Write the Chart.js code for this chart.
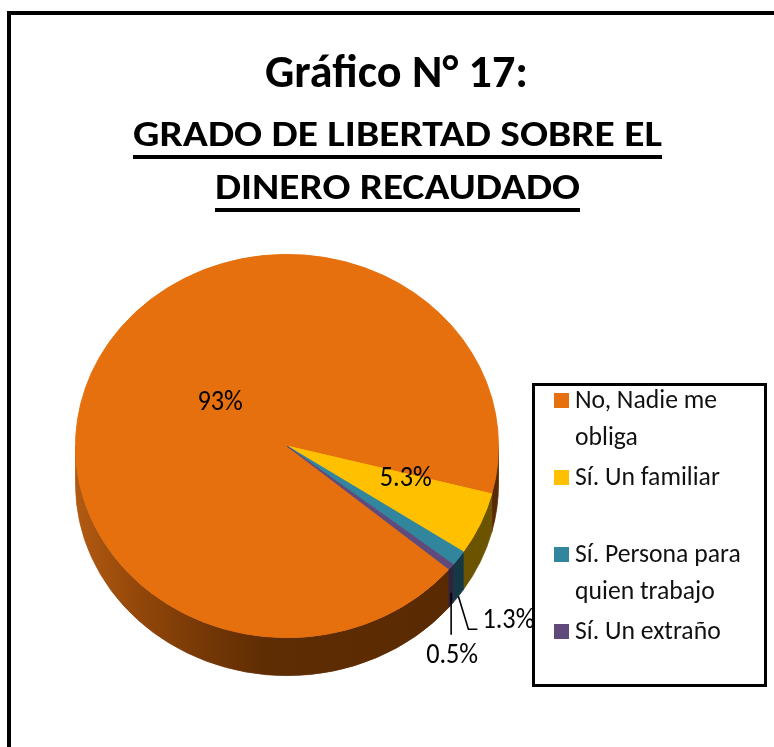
<!DOCTYPE html>
<html><head><meta charset="utf-8">
<script src="https://cdn.jsdelivr.net/npm/chart.js@4.4.1/dist/chart.umd.min.js"></script>
<style>
html,body{margin:0;padding:0;background:#fff;width:774px;height:747px;overflow:hidden}
#frame{position:absolute;left:7px;top:11px;width:820px;height:820px;border-left:4px solid #000;border-top:4px solid #000;box-sizing:border-box}
canvas{position:absolute;left:0;top:0}
</style></head><body>
<div id="frame"></div>
<canvas id="c" width="774" height="747"></canvas>
<script>
// ---- data ----
const titleLines = ['Gráfico N° 17:', 'GRADO DE LIBERTAD SOBRE EL', 'DINERO RECAUDADO'];
const categories = [['No, Nadie me', 'obliga'], ['Sí. Un familiar'], ['Sí. Persona para', 'quien trabajo'], ['Sí. Un extraño']];
const values = [93, 5.3, 1.3, 0.5];
const valueLabels = ['93%', '5.3%', '1.3%', '0.5%'];
const topColors = ['#E6700E', '#FFC000', '#31859C', '#604A7B'];
const sideColors = ['orangeGradient', '#6C5300', '#143944', '#2E2440'];

const FONT = "Carlito, 'Liberation Sans Narrow', 'DejaVu Sans Condensed', 'Open Sans', sans-serif";
const TILT = 0.906, DEPTH = 38;

function sizeForCap(ctx, weight, capH) {
  ctx.font = weight + ' 100px ' + FONT;
  const a = ctx.measureText('H').actualBoundingBoxAscent || 72;
  return 100 * capH / a;
}
function widthScale(ctx, weight, capH, sample, targetW) {
  const s = sizeForCap(ctx, weight, capH);
  ctx.font = weight + ' ' + s + 'px ' + FONT;
  return { size: s, sx: targetW / ctx.measureText(sample).width };
}
function drawText(ctx, text, x, y, weight, size, sx, align, baseline, color) {
  ctx.save();
  ctx.font = weight + ' ' + size + 'px ' + FONT;
  ctx.fillStyle = color || '#000';
  ctx.textAlign = align; ctx.textBaseline = baseline;
  ctx.translate(x, y); ctx.scale(sx, 1);
  ctx.fillText(text, 0, 0);
  ctx.restore();
}

function sideFill(ctx, i, cx, r) {
  if (sideColors[i] !== 'orangeGradient') return sideColors[i];
  const g = ctx.createLinearGradient(cx - r, 0, cx + r, 0);
  g.addColorStop(0, '#B25A12');
  g.addColorStop(0.15, '#934709');
  g.addColorStop(0.3, '#763806');
  g.addColorStop(0.45, '#5F2D03');
  g.addColorStop(1, '#582902');
  return g;
}

const pie3d = {
  id: 'pie3d',
  beforeDatasetsDraw(chart) {
    const ctx = chart.ctx;
    const arcs = chart.getDatasetMeta(0).data;
    const { x, y, outerRadius: r } = arcs[0];
    const ry = r * TILT;
    ctx.save();
    arcs.forEach((arc, i) => {
      const s = arc.startAngle, e = arc.endAngle;
      for (let k = -1; k <= 2; k++) {
        const a0 = Math.max(s, 2 * Math.PI * k), a1 = Math.min(e, 2 * Math.PI * k + Math.PI);
        if (a1 <= a0) continue;
        ctx.beginPath();
        ctx.ellipse(x, y, r, ry, 0, a0, a1);
        ctx.ellipse(x, y + DEPTH, r, ry, 0, a1, a0, true);
        ctx.closePath();
        const f = sideFill(ctx, i, x, r);
        ctx.fillStyle = f; ctx.strokeStyle = f; ctx.lineWidth = 0.8;
        ctx.fill(); ctx.stroke();
      }
    });
    ctx.translate(x, y); ctx.scale(1, TILT); ctx.translate(-x, -y);
  },
  afterDatasetsDraw(chart) { chart.ctx.restore(); }
};

// label placement relative to each slice (angle shift in degrees, radius fraction) - layout only
const labelPlace = [
  { inside: true, shift: 8, frac: 0.387 },
  { inside: true, shift: -7, frac: 0.587 },
  { inside: false, line: [[0, 0], [10, 33], [19, 33]], text: [24, 25], align: 'left' },
  { inside: false, line: [[0, -12], [0, 30]], text: [1, 51], align: 'center' }
];

const decor = {
  id: 'decor',
  afterDraw(chart) {
    const ctx = chart.ctx;
    // title
    const t1 = widthScale(ctx, 'bold', 30, titleLines[0], 263);
    drawText(ctx, titleLines[0], 396.5, 87, 'bold', t1.size, t1.sx, 'center', 'alphabetic');
    const subW = [529, 365], subY = [146, 199];
    for (let j = 0; j < 2; j++) {
      const t = widthScale(ctx, 'bold', 24, titleLines[j + 1], subW[j]);
      drawText(ctx, titleLines[j + 1], 397.5, subY[j], 'bold', t.size, t.sx, 'center', 'alphabetic');
      ctx.fillStyle = '#000';
      ctx.fillRect(397.5 - subW[j] / 2, subY[j] + 9, subW[j], 4);
    }
    // data labels
    const arcs = chart.getDatasetMeta(0).data;
    const lf = widthScale(ctx, 'normal', 18, '5.3%', 52);
    arcs.forEach((arc, i) => {
      const p = labelPlace[i];
      const { x, y, outerRadius: r } = arc;
      const mid = (arc.startAngle + arc.endAngle) / 2;
      if (p.inside) {
        const a = mid + p.shift * Math.PI / 180;
        drawText(ctx, valueLabels[i], x + Math.cos(a) * r * p.frac, y + Math.sin(a) * r * p.frac * TILT,
          'normal', lf.size, lf.sx, 'center', 'middle', '#000');
      } else {
        const bx = x + Math.cos(mid) * r, by = y + Math.sin(mid) * r * TILT + DEPTH;
        ctx.save();
        ctx.strokeStyle = '#000'; ctx.lineWidth = 1.6;
        ctx.beginPath();
        p.line.forEach((q, k) => k ? ctx.lineTo(bx + q[0], by + q[1]) : ctx.moveTo(bx + q[0], by + q[1]));
        ctx.stroke();
        ctx.restore();
        drawText(ctx, valueLabels[i], bx + p.text[0], by + p.text[1], 'normal', lf.size, lf.sx, p.align, 'middle', '#000');
      }
    });
    // legend
    ctx.save();
    ctx.strokeStyle = '#000'; ctx.lineWidth = 3;
    ctx.strokeRect(533.5, 384.5, 232, 301);
    ctx.restore();
    const lg = widthScale(ctx, 'normal', 17, 'No, Nadie me', 142);
    categories.forEach((lines, i) => {
      const base = 408 + i * 77;
      ctx.fillStyle = topColors[i];
      ctx.fillRect(554, base - 15, 15, 15);
      lines.forEach((ln, k) => drawText(ctx, ln, 575, base + k * 37, 'normal', lg.size, lg.sx, 'left', 'alphabetic', '#111'));
    });
  }
};

new Chart(document.getElementById('c'), {
  type: 'pie',
  data: {
    labels: categories.map(c => c.join(' ')),
    datasets: [{
      data: values,
      backgroundColor: topColors,
      borderColor: topColors,
      borderWidth: 1,
      hoverOffset: 0,
      clip: false
    }]
  },
  options: {
    responsive: false,
    animation: false,
    devicePixelRatio: 1,
    rotation: 130,
    layout: { padding: { left: 75, right: 275, top: 234, bottom: 89 } },
    plugins: { legend: { display: false }, title: { display: false }, tooltip: { enabled: false } }
  },
  plugins: [pie3d, decor]
});
</script>
</body></html>
